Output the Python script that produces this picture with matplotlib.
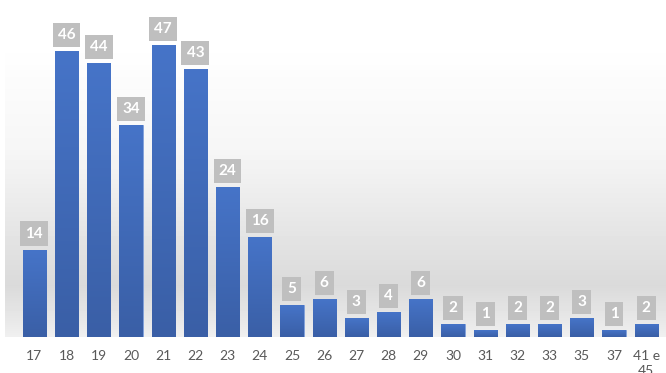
import numpy as np
import matplotlib.pyplot as plt
from matplotlib.colors import LinearSegmentedColormap

plt.rcParams['font.family'] = ['Lato', 'DejaVu Sans']

categories = ['17', '18', '19', '20', '21', '22', '23', '24', '25', '26',
              '27', '28', '29', '30', '31', '32', '33', '35', '37', '41 e\n45']
values = [14, 46, 44, 34, 47, 43, 24, 16, 5, 6, 3, 4, 6, 2, 1, 2, 2, 3, 1, 2]

W, H = 666, 373
fig = plt.figure(figsize=(W / 100, H / 100), dpi=100)

# soft grey background band behind the bars
bg = fig.add_axes([0, 0, 1, 1], zorder=0)
rows = np.arange(H)
shade = np.interp(rows, [0, 40, 150, 250, 285, 320, 336, 337, H],
                  [255, 255, 246, 225, 218, 232, 240, 255, 255])
img = np.repeat(shade[:, None], W, axis=1)
img[:, :5] = 255
bg.imshow(img, cmap='gray', vmin=0, vmax=255, aspect='auto',
          extent=(0, W, H, 0))
bg.set_xlim(0, W)
bg.set_ylim(H, 0)
bg.axis('off')

left, right, top, bottom = 18.2, 662.3, 26.0, 336.5
ax = fig.add_axes([left / W, 1 - bottom / H, (right - left) / W, (bottom - top) / H], zorder=1)
ax.patch.set_alpha(0)

x = np.arange(len(categories))
bars = ax.bar(x, values, width=0.72, color='#4472C4', zorder=2)

# vertical gradient inside each bar
cmap = LinearSegmentedColormap.from_list('blue', ['#3A5FA6', '#4674C8'])
grad = np.linspace(0, 1, 256)[:, None]
for b in bars:
    bx, by = b.get_x(), b.get_y()
    bw, bh = b.get_width(), b.get_height()
    im = ax.imshow(grad, cmap=cmap, aspect='auto', origin='lower',
                   extent=(bx, bx + bw, by, by + bh), zorder=3)
    im.set_clip_path(b)
    b.set_facecolor('none')
    b.set_edgecolor('#6F93D6')
    b.set_linewidth(0.6)

for xi, v in zip(x, values):
    ax.annotate(str(v), (xi, v), xytext=(0, 6.5), textcoords='offset points',
                ha='center', va='bottom', fontsize=11, fontweight='bold',
                color='white', zorder=5,
                bbox=dict(boxstyle='square,pad=0.33', fc='#BFBFBF', ec='none'))

ax.set_xlim(-0.5, len(categories) - 0.5)
ax.set_ylim(0, 50)
ax.set_xticks(x)
ax.set_xticklabels(categories, fontsize=10, color='#595959', linespacing=1.25)
ax.tick_params(axis='x', length=0, pad=10)
ax.set_yticks([])
for s in ax.spines.values():
    s.set_visible(False)

fig.savefig('out.png', dpi=100)
